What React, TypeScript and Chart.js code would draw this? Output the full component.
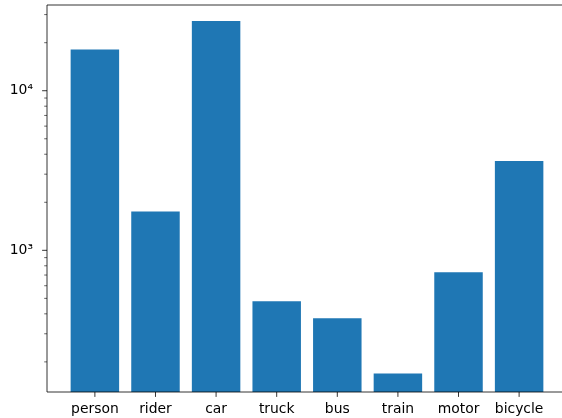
import React, { useEffect, useRef } from "react";
import { Chart, registerables } from "chart.js";

Chart.register(...registerables);

const categories = ["person", "rider", "car", "truck", "bus", "train", "motor", "bicycle"];
const counts = [18100, 1754, 27330, 479, 375, 169, 728, 3630];

const yMajorTicks = [1000, 10000];
const yMajorLabels = ["10³", "10⁴"];
const yMinorTicks = [200, 300, 400, 500, 600, 700, 800, 900, 2000, 3000, 4000, 5000, 6000, 7000, 8000, 9000, 20000, 30000];
const yMin = 129.5;
const yMax = 34450;
const xMin = -0.79;
const xMax = 7.79;

const BAR_COLOR = "#1f77b4";
const FONT = { family: "DejaVu Sans", size: 13.9 };

const frameAndTicks = {
  id: "frameAndTicks",
  afterDraw(chart: any) {
    const { ctx, chartArea: a, scales } = chart;
    ctx.save();
    ctx.strokeStyle = "#000";
    const y = scales.y;
    for (const t of y.ticks) {
      const py = y.getPixelForValue(t.value);
      const major = yMajorTicks.includes(t.value);
      ctx.lineWidth = major ? 0.8 : 0.6;
      ctx.beginPath();
      ctx.moveTo(a.left, py);
      ctx.lineTo(a.left - (major ? 4.9 : 2.8), py);
      ctx.stroke();
    }
    const x = scales.x;
    for (const t of x.ticks) {
      const px = x.getPixelForValue(t.value);
      ctx.lineWidth = 0.8;
      ctx.beginPath();
      ctx.moveTo(px, a.bottom);
      ctx.lineTo(px, a.bottom + 4.9);
      ctx.stroke();
    }
    // spines: top, left, bottom (right spine lies outside the visible area)
    ctx.lineWidth = 0.8;
    ctx.beginPath();
    ctx.moveTo(a.right, a.top);
    ctx.lineTo(a.left, a.top);
    ctx.lineTo(a.left, a.bottom);
    ctx.lineTo(a.right, a.bottom);
    ctx.stroke();
    ctx.restore();
  },
};

export default function App() {
  const ref = useRef<HTMLCanvasElement | null>(null);

  useEffect(() => {
    if (!ref.current) return;
    const chart = new Chart(ref.current, {
      type: "bar",
      data: {
        datasets: [
          {
            data: counts.map((v, i) => ({ x: i, y: v })),
            backgroundColor: BAR_COLOR,
            borderWidth: 0,
            barPercentage: 0.8,
            categoryPercentage: 1,
          },
        ],
      },
      options: {
        animation: false,
        responsive: false,
        devicePixelRatio: 1,
        layout: { padding: { left: 0, top: 5, right: 33, bottom: 0 } },
        plugins: { legend: { display: false }, tooltip: { enabled: false } },
        scales: {
          x: {
            type: "linear",
            min: xMin,
            max: xMax,
            offset: false,
            grid: { display: false, offset: false },
            border: { display: false },
            afterBuildTicks: (scale: any) => {
              scale.ticks = categories.map((_, i) => ({ value: i }));
            },
            afterFit: (scale: any) => {
              scale.height = 26;
              scale.paddingLeft = 0;
              scale.paddingRight = 0;
            },
            ticks: {
              autoSkip: false,
              maxRotation: 0,
              padding: 1,
              color: "#000",
              font: FONT,
              callback: (v: any) => categories[v as number] ?? "",
            },
          },
          y: {
            type: "logarithmic",
            min: yMin,
            max: yMax,
            grid: { display: false },
            border: { display: false },
            afterBuildTicks: (scale: any) => {
              scale.ticks = [...yMinorTicks, ...yMajorTicks]
                .sort((p, q) => p - q)
                .map((v) => ({ value: v }));
            },
            afterFit: (scale: any) => {
              scale.width = 47;
              scale.paddingTop = 0;
              scale.paddingBottom = 0;
            },
            ticks: {
              autoSkip: false,
              padding: 6,
              color: "#000",
              font: FONT,
              callback: (v: any) => {
                const idx = yMajorTicks.indexOf(v as number);
                return idx >= 0 ? yMajorLabels[idx] : "";
              },
            },
          },
        },
      },
      plugins: [frameAndTicks],
    } as any);
    return () => chart.destroy();
  }, []);

  return (
    <div
      style={{
        position: "absolute",
        left: 0,
        top: 0,
        width: 562,
        height: 418,
        overflow: "hidden",
        background: "#fff",
      }}
    >
      <canvas ref={ref} width={600} height={418} style={{ width: 600, height: 418, display: "block" }} />
    </div>
  );
}
